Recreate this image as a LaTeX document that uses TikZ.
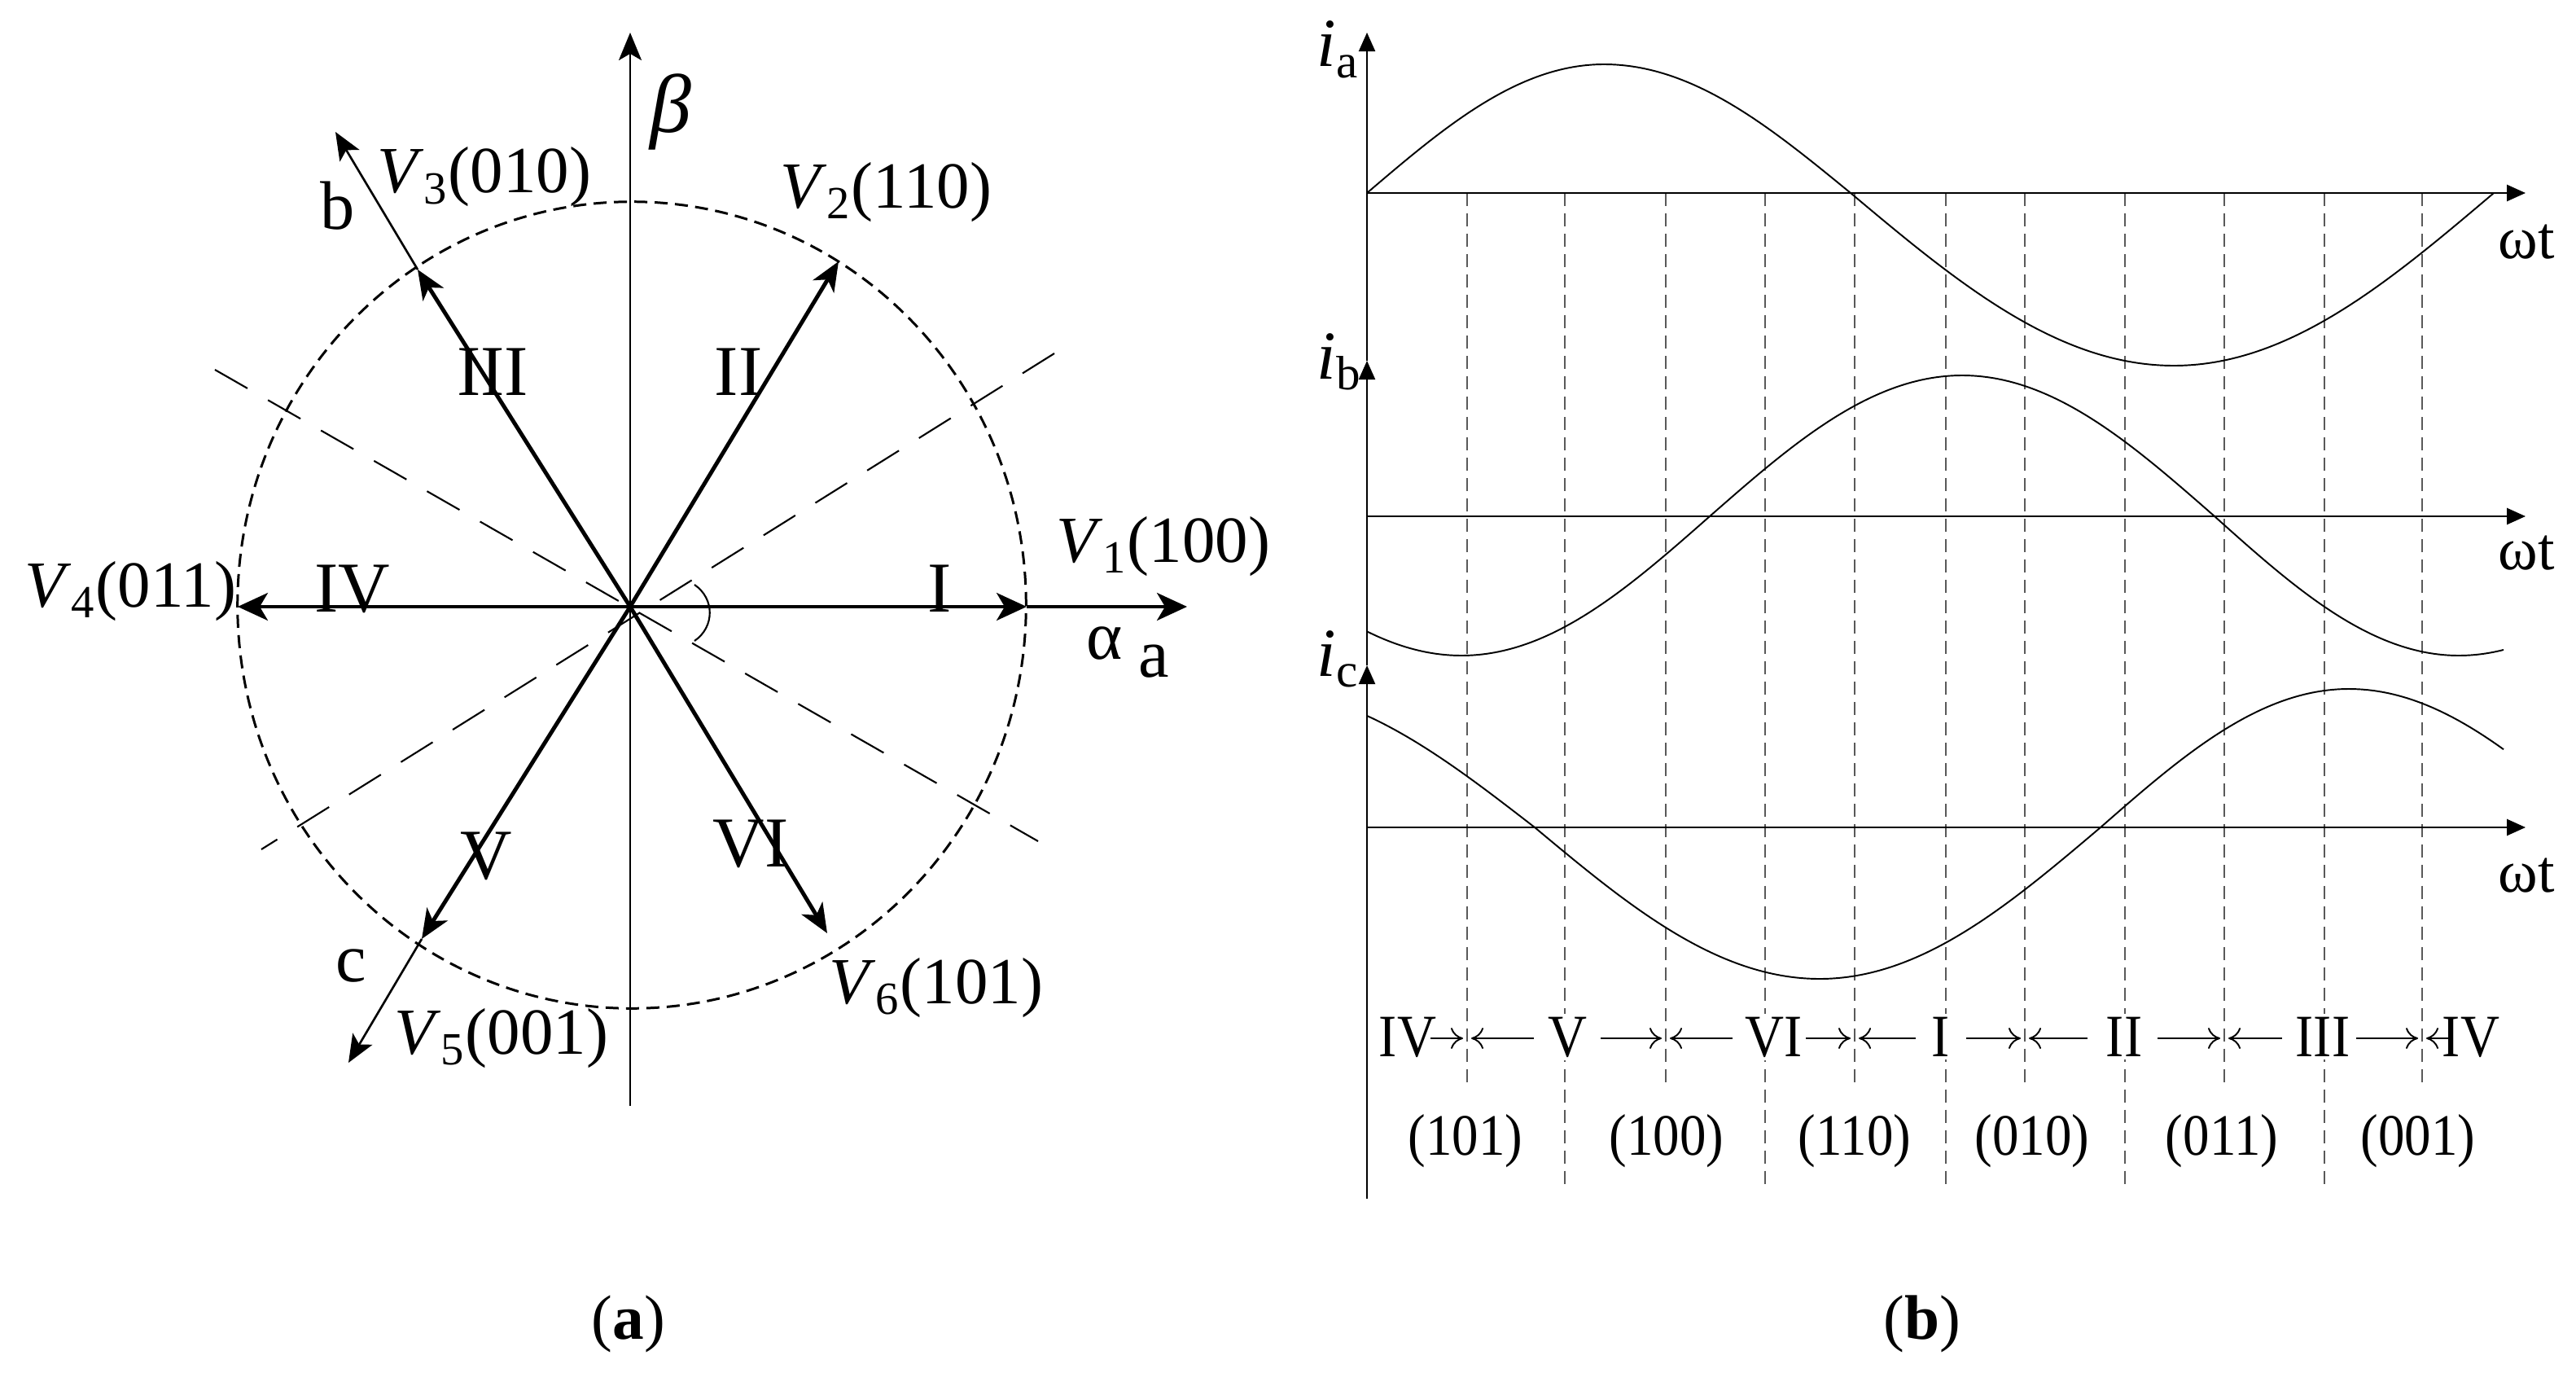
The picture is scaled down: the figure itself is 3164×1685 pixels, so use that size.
\documentclass[tikz,border=0pt]{standalone}
\usepackage{fontspec}
\setmainfont{Liberation Serif}
\newfontfamily\condserif[FakeStretch=0.9]{Liberation Serif}
\usetikzlibrary{arrows.meta}
\begin{document}
\begin{tikzpicture}[x=0.01cm, y=-0.01cm,
  vecA/.style={line width=1.4pt, -{Stealth[length=0.36cm, width=0.3cm, inset=0.1cm]}},
  vecH/.style={line width=1pt, -{Stealth[length=0.37cm, width=0.34cm, inset=0.1cm]}},
  axisL/.style={line width=0.75pt, -{Stealth[length=0.34cm, width=0.28cm, inset=0.08cm]}},
  sectdash/.style={line width=0.6pt, dash pattern=on 0.46cm off 0.29cm},
  circdash/.style={line width=0.85pt, dash pattern=on 0.16cm off 0.09cm},
  vlab/.style={font=\fontsize{23}{26}\selectfont, inner sep=0pt},
  romL/.style={font=\fontsize{25}{28}\selectfont, inner sep=0pt},
  axR/.style={line width=0.75pt, -{Triangle[length=0.23cm, width=0.2cm]}},
  vaxR/.style={line width=0.6pt, -{Triangle[length=0.23cm, width=0.2cm]}},
  wave/.style={line width=0.55pt},
  gridline/.style={line width=0.4pt, black!65, dash pattern=on 0.16cm off 0.09cm},
  romR/.style={font=\condserif\fontsize{21}{24}\selectfont, inner sep=1pt, fill=white},
  code/.style={font=\condserif\fontsize{20.5}{24}\selectfont, inner sep=0pt},
  wt/.style={font=\fontsize{21}{24}\selectfont, inner sep=0pt},
  ilab/.style={font=\fontsize{24}{26}\selectfont, inner sep=0pt},
  sarr/.style={line width=0.55pt, -{To[length=0.15cm, width=0.26cm]}},
  captext/.style={font=\fontsize{22}{26}\selectfont, inner sep=0pt}
]
\useasboundingbox (0,0) rectangle (3164,1685);

%% ---------------- (a) vector diagram ----------------
\coordinate (O) at (774,745);
\coordinate (T1) at (1261,745);
\coordinate (Ta) at (1458,745);
\coordinate (T4) at (292,745);
\coordinate (T2) at (1030,321);
\coordinate (T3) at (513,331);
\coordinate (Tb) at (412,162);
\coordinate (T5) at (518,1153);
\coordinate (Tc) at (428,1305);
\coordinate (T6) at (1016,1146);
\coordinate (Bt) at (774,40);
\coordinate (Bb) at (774,1358);
\coordinate (A1) at (1295,434);
\coordinate (A2) at (321,1043);
\coordinate (B1) at (264,454);
\coordinate (B2) at (1275,1033);

\draw[circdash] (776,743) ellipse [x radius=4.84cm, y radius=4.95cm];
\draw[sectdash] (A1) -- (A2);
\draw[sectdash] (B1) -- (B2);

\draw[axisL] (Bb) -- (Bt);
\draw[axisL] (T3) -- (Tb);
\draw[axisL] (T5) -- (Tc);
\draw[vecH] (O) -- (T1);
\draw[vecH] (T1) -- (Ta);
\draw[vecH] (O) -- (T4);
\draw[vecA] (O) -- (T2);
\draw[vecA] (O) -- (T3);
\draw[vecA] (O) -- (T5);
\draw[vecA] (O) -- (T6);

\draw[line width=0.6pt] (853,718) .. controls (878,735) and (878,770) .. (853,787);

\node[vlab, anchor=base west] (lV1) at (1297,690) {\textit{V}\textsubscript{1}(100)};
\node[vlab, anchor=base west] (lV2) at (958,255) {\textit{V}\textsubscript{2}(110)};
\node[vlab, anchor=base west] (lV3) at (463,237) {\textit{V}\textsubscript{3}(010)};
\node[vlab, anchor=base west] (lV4) at (30,745) {\textit{V}\textsubscript{4}(011)};
\node[vlab, anchor=base west] (lV5) at (484,1294) {\textit{V}\textsubscript{5}(001)};
\node[vlab, anchor=base west] (lV6) at (1018,1232) {\textit{V}\textsubscript{6}(101)};

\node[romL, anchor=base] (rI) at (1154,751) {I};
\node[romL, anchor=base] (rIV) at (433,751) {IV};
\node[romL, anchor=base] (rIII) at (605,485) {III};
\node[romL, anchor=base] (rII) at (907,485) {II};
\node[romL, anchor=base] (rV) at (597,1079) {V};
\node[romL, anchor=base] (rVI) at (922,1064) {VI};

\node[font=\fontsize{29}{31}\selectfont] (beta) at (824,137) {\textit{β}};
\node[font=\fontsize{24}{26}\selectfont] (alpha) at (1357,790) {α};
\node[font=\fontsize{24}{26}\selectfont] (la) at (1417,812) {a};
\node[font=\fontsize{24}{26}\selectfont] (lb) at (415,253) {b};
\node[font=\fontsize{24}{26}\selectfont] (lc) at (431,1186) {c};

%% ---------------- (b) waveforms ----------------
\foreach \x in {1802,2046,2278,2487,2732,2975}
  \draw[gridline] (\x,237) -- (\x,1333);
\foreach \x in {1922,2168,2390,2610,2855}
  \draw[gridline] (\x,237) -- (\x,1456);

\coordinate (Y0) at (1679,1472);
\coordinate (Yc) at (1679,817);
\coordinate (Yb) at (1679,443);
\coordinate (Ya) at (1679,40);
\draw[vaxR] (Y0) -- (Yc);
\draw[vaxR] (Yc) -- (Yb);
\draw[vaxR] (Yb) -- (Ya);

\coordinate (Xa0) at (1679,237);  \coordinate (Xa1) at (3102,237);
\coordinate (Xb0) at (1679,634);  \coordinate (Xb1) at (3102,634);
\coordinate (Xc0) at (1679,1016); \coordinate (Xc1) at (3102,1016);
\draw[axR] (Xa0) -- (Xa1);
\draw[axR] (Xb0) -- (Xb1);
\draw[axR] (Xc0) -- (Xc1);

% i_a
\draw[wave] (1679,237) sin (1970,79) cos (2273,237) sin (2670,449) cos (3063,237);
% i_b
\draw[wave] plot[domain=1679:1795, samples=25] (\x,{634+171*sin((\x-1490)/305*90)})
  cos (2100,634) sin (2410,461) cos (2720,634) sin (3020,805);
\draw[wave] plot[domain=3020:3075, samples=12] (\x,{634+171*cos((\x-3020)/300*90)});
% i_c
\draw[wave] plot[domain=1679:1885, samples=30] (\x,{1016-170*cos((\x-1540)/345*90)})
  sin (2235,1202) cos (2580,1016) sin (2885,846);
\draw[wave] plot[domain=2885:3075, samples=25] (\x,{1016-170*cos((\x-2885)/307*90)});

\node[ilab, anchor=base west] (lia) at (1617,82) {\textit{i}\textsubscript{a}};
\node[ilab, anchor=base west] (lib) at (1617,465) {\textit{i}\textsubscript{b}};
\node[ilab, anchor=base west] (lic) at (1617,830) {\textit{i}\textsubscript{c}};

\node[wt, anchor=base west] (wt1) at (3068,317) {ωt};
\node[wt, anchor=base west] (wt2) at (3068,699) {ωt};
\node[wt, anchor=base west] (wt3) at (3068,1095) {ωt};

% sector row
\node[romR, anchor=base] (s4a) at (1729,1297) {IV};
\node[romR, anchor=base] (s5) at (1925,1297) {V};
\node[romR, anchor=base] (s6) at (2179,1297) {VI};
\node[romR, anchor=base] (s1) at (2384,1297) {I};
\node[romR, anchor=base] (s2) at (2609,1297) {II};
\node[romR, anchor=base] (s3) at (2853,1297) {III};
\node[romR, anchor=base] (s4b) at (3035,1297) {IV};

\coordinate (q1l) at (1797,1275); \coordinate (q1r) at (1807,1275);
\coordinate (q2l) at (2041,1275); \coordinate (q2r) at (2051,1275);
\coordinate (q3l) at (2273,1275); \coordinate (q3r) at (2283,1275);
\coordinate (q4l) at (2482,1275); \coordinate (q4r) at (2492,1275);
\coordinate (q5l) at (2727,1275); \coordinate (q5r) at (2737,1275);
\coordinate (q6l) at (2970,1275); \coordinate (q6r) at (2980,1275);
\draw[sarr] (1757,1275) -- (q1l);
\draw[sarr] (1884,1275) -- (q1r);
\draw[sarr] (1966,1275) -- (q2l);
\draw[sarr] (2128,1275) -- (q2r);
\draw[sarr] (2218,1275) -- (q3l);
\draw[sarr] (2353,1275) -- (q3r);
\draw[sarr] (2415,1275) -- (q4l);
\draw[sarr] (2564,1275) -- (q4r);
\draw[sarr] (2650,1275) -- (q5l);
\draw[sarr] (2803,1275) -- (q5r);
\draw[sarr] (2894,1275) -- (q6l);
\draw[sarr] (3009,1275) -- (q6r);

\node[code, anchor=base] (c1) at (1800,1418) {(101)};
\node[code, anchor=base] (c2) at (2047,1418) {(100)};
\node[code, anchor=base] (c3) at (2278,1418) {(110)};
\node[code, anchor=base] (c4) at (2496,1418) {(010)};
\node[code, anchor=base] (c5) at (2729,1418) {(011)};
\node[code, anchor=base] (c6) at (2970,1418) {(001)};

%% captions
\node[captext] (capa) at (772,1626) {(\textbf{a})};
\node[captext] (capb) at (2361,1626) {(\textbf{b})};
\end{tikzpicture}
\end{document}
